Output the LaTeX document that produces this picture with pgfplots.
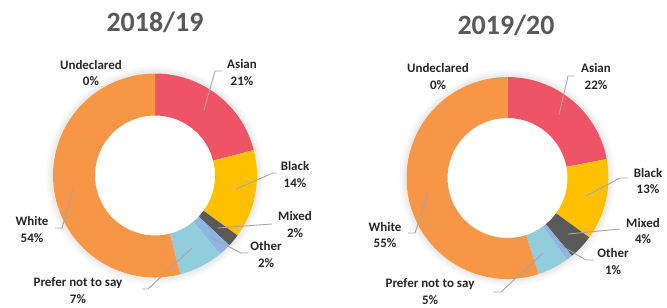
\documentclass[border=0pt]{standalone}
\usepackage{pgfplots}
\pgfplotsset{compat=1.18}
\usepackage{fontspec}
\setmainfont{Carlito}
\definecolor{cAsian}{HTML}{EF5466}
\definecolor{cBlack}{HTML}{FFC000}
\definecolor{cMixed}{HTML}{595959}
\definecolor{cOther}{HTML}{8DB4E2}
\definecolor{cPrefer}{HTML}{92CDDC}
\definecolor{cWhite}{HTML}{F79646}
\definecolor{cTitle}{HTML}{595959}
\definecolor{cLead}{HTML}{A6A6A6}
\definecolor{cLab}{HTML}{262626}
% wedge: center x, center y, cumulative start %, cumulative end %, colour, outer r, inner r
\newcommand\donutwedge[7]{%
  \fill[#5] ([shift={({90-3.6*(#3)}:#6bp)}]axis cs:#1,#2)
    arc[start angle={90-3.6*(#3)}, end angle={90-3.6*(#4)}, radius=#6bp]
    -- ([shift={({90-3.6*(#4)}:#7bp)}]axis cs:#1,#2)
    arc[start angle={90-3.6*(#4)}, end angle={90-3.6*(#3)}, radius=#7bp] -- cycle;}
\newcommand\glow[3]{%
  \fill[black,opacity=0.02,even odd rule] (axis cs:#1,#2) circle[radius=#3bp+7bp] (axis cs:#1,#2) circle[radius=#3bp];
  \fill[black,opacity=0.02,even odd rule] (axis cs:#1,#2) circle[radius=#3bp+5bp] (axis cs:#1,#2) circle[radius=#3bp];
  \fill[black,opacity=0.02,even odd rule] (axis cs:#1,#2) circle[radius=#3bp+3.5bp] (axis cs:#1,#2) circle[radius=#3bp];
  \fill[black,opacity=0.02,even odd rule] (axis cs:#1,#2) circle[radius=#3bp+2bp] (axis cs:#1,#2) circle[radius=#3bp];}
\begin{document}
\begin{tikzpicture}
\begin{axis}[x=1bp,y=1bp,xmin=0,xmax=667,ymin=0,ymax=307,hide axis,clip=false,
  scale only axis]
\addplot[draw=none] coordinates {(0,0) (667,307)};
% ---------- 2018/19 : Asian 21, Black 14, Mixed 2, Other 2, Prefer not to say 7, White 54, Undeclared 0
\glow{155}{131.5}{102}
\donutwedge{155}{131.5}{0}{21}{cAsian}{102}{60}
\donutwedge{155}{131.5}{21}{21+14}{cBlack}{102}{60}
\donutwedge{155}{131.5}{21+14}{21+14+2}{cMixed}{102}{60}
\donutwedge{155}{131.5}{21+14+2}{21+14+2+2}{cOther}{102}{60}
\donutwedge{155}{131.5}{21+14+2+2}{21+14+2+2+7}{cPrefer}{102}{60}
\donutwedge{155}{131.5}{21+14+2+2+7}{21+14+2+2+7+54}{cWhite}{102}{60}
% ---------- 2019/20 : Asian 22, Black 13, Mixed 4, Other 1, Prefer not to say 5, White 55, Undeclared 0
\glow{507.5}{129}{101}
\donutwedge{507.5}{129}{0}{22}{cAsian}{101}{60}
\donutwedge{507.5}{129}{22}{22+13}{cBlack}{101}{60}
\donutwedge{507.5}{129}{22+13}{22+13+4}{cMixed}{101}{60}
\donutwedge{507.5}{129}{22+13+4}{22+13+4+1}{cOther}{101}{60}
\donutwedge{507.5}{129}{22+13+4+1}{22+13+4+1+5}{cPrefer}{101}{60}
\donutwedge{507.5}{129}{22+13+4+1+5}{22+13+4+1+5+55}{cWhite}{101}{60}
% leader lines
\begin{scope}[cLead, line width=0.9bp]
\draw (axis cs:222,236) -- (axis cs:215,236) -- (axis cs:204,197);
\draw (axis cs:277,134) -- (axis cs:273,134) -- (axis cs:236,118);
\draw (axis cs:272,83) -- (axis cs:218,79);
\draw (axis cs:248,54) -- (axis cs:241,54) -- (axis cs:210,70);
\draw (axis cs:142,18) -- (axis cs:148,18) -- (axis cs:192,59);
\draw (axis cs:55,79) -- (axis cs:62,79) -- (axis cs:74,120);
\draw (axis cs:574,231) -- (axis cs:568,231) -- (axis cs:559,192);
\draw (axis cs:628,129) -- (axis cs:620,129) -- (axis cs:586,111);
\draw (axis cs:620,78) -- (axis cs:568,73);
\draw (axis cs:594,47) -- (axis cs:586,47) -- (axis cs:560,62);
\draw (axis cs:493,15) -- (axis cs:501,15) -- (axis cs:543,54);
\draw (axis cs:408,74) -- (axis cs:415,74) -- (axis cs:428,114);
\end{scope}
% titles
\node[font=\bfseries\fontsize{28}{32}\selectfont, text=cTitle] at (axis cs:155,285) {2018/19};
\node[font=\bfseries\fontsize{28}{32}\selectfont, text=cTitle] at (axis cs:506,282) {2019/20};
% labels
\begin{scope}[every node/.style={font=\bfseries\fontsize{13}{17}\selectfont, align=center, text=cLab, inner sep=0pt}]
\node at (axis cs:91,234) {Undeclared\\0\%};
\node at (axis cs:242,234.5) {Asian\\21\%};
\node at (axis cs:295,132.5) {Black\\14\%};
\node at (axis cs:295,82.5) {Mixed\\2\%};
\node at (axis cs:266,52.5) {Other\\2\%};
\node at (axis cs:78,16.5) {Prefer not to say\\7\%};
\node at (axis cs:32,77.5) {White\\54\%};
\node at (axis cs:438,230.5) {Undeclared\\0\%};
\node at (axis cs:596,230.5) {Asian\\22\%};
\node at (axis cs:648,126) {Black\\13\%};
\node at (axis cs:643,76) {Mixed\\4\%};
\node at (axis cs:613,45.5) {Other\\1\%};
\node at (axis cs:430,15) {Prefer not to say\\5\%};
\node at (axis cs:385,72) {White\\55\%};
\end{scope}
\end{axis}
\end{tikzpicture}
\end{document}
